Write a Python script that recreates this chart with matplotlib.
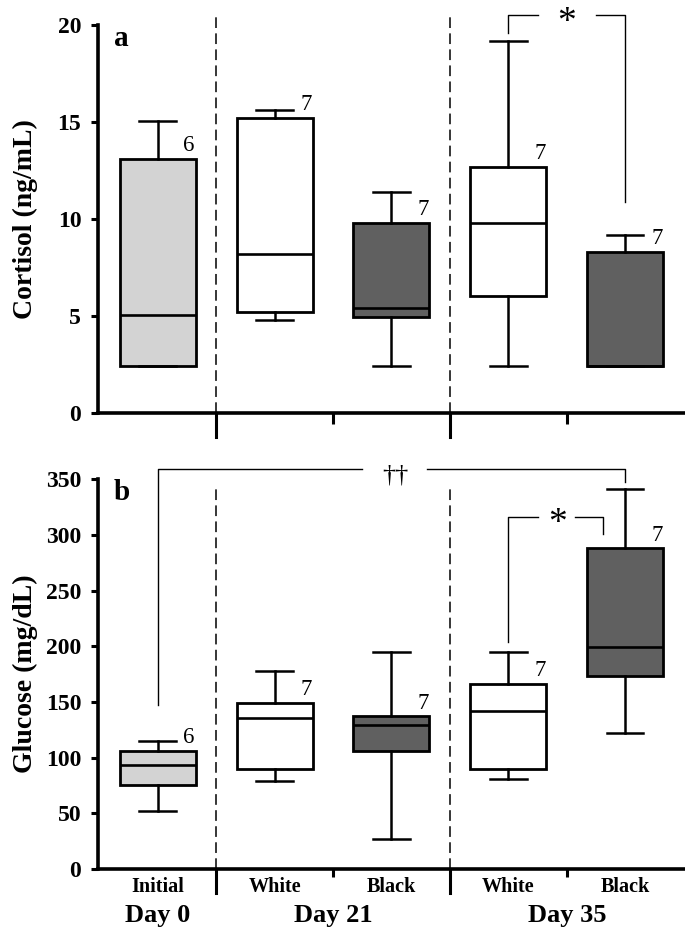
import matplotlib
matplotlib.use('Agg')
import matplotlib.pyplot as plt

plt.rcParams['font.family'] = ['Liberation Serif', 'DejaVu Serif']
plt.rcParams['font.weight'] = 'bold'

# ---------------- data ----------------
groups = ['Initial', 'White', 'Black', 'White', 'Black']
days = ['Day 0', 'Day 21', 'Day 35']
day_pos = [0, 1.5, 3.5]
n_labels = ['6', '7', '7', '7', '7']
colors = ['#d3d3d3', '#ffffff', '#606060', '#ffffff', '#606060']

cort_low = [2.45, 4.8, 2.45, 2.45, 2.45]
cort_q1 = [2.45, 5.2, 4.95, 6.05, 2.45]
cort_med = [5.05, 8.2, 5.4, 9.8, 2.45]
cort_q3 = [13.1, 15.2, 9.8, 12.7, 8.3]
cort_high = [15.05, 15.6, 11.4, 19.2, 9.2]

glu_low = [52, 79, 27, 81, 122]
glu_q1 = [75, 90, 106, 90, 173]
glu_med = [93, 136, 129, 142, 199]
glu_q3 = [106, 149, 137, 166, 288]
glu_high = [115, 178, 195, 195, 341]

fig = plt.figure(figsize=(6.85, 9.33), dpi=100)
ax1 = fig.add_axes([0.143, 0.5573, 0.857, 0.4159])
ax2 = fig.add_axes([0.143, 0.0686, 0.857, 0.4177])


def panel(ax, low, q1, med, q3, high, ylim, yticks, ylabel, letter, letter_y, dash_top,
          show_labels, minor_len):
    stats = []
    for i in range(len(groups)):
        stats.append(dict(med=med[i], q1=q1[i], q3=q3[i], whislo=low[i], whishi=high[i], fliers=[]))
    res = ax.bxp(stats, positions=list(range(len(groups))), widths=0.65, capwidths=0.31,
                 patch_artist=True, showfliers=False,
                 boxprops=dict(linewidth=2.0, edgecolor='black'),
                 whiskerprops=dict(linewidth=1.8, color='black'),
                 capprops=dict(linewidth=1.8, color='black'),
                 medianprops=dict(linewidth=1.9, color='black'))
    for b, c in zip(res['boxes'], colors):
        b.set_facecolor(c)
    for i, n in enumerate(n_labels):
        ax.annotate(n, (i + 0.27, q3[i]), xytext=(0, 2), textcoords='offset points',
                    ha='center', va='bottom', fontsize=16.5, fontweight='normal')
    ax.set_xlim(-0.51, 4.51)
    ax.set_ylim(*ylim)
    ax.set_yticks(yticks)
    ax.tick_params(axis='y', labelsize=17, width=2.2, length=5, direction='out', pad=7)
    ax.set_ylabel(ylabel, fontsize=20, fontweight='bold')
    ax.yaxis.set_label_coords(-0.102, 0.5)
    for s in ['top', 'right']:
        ax.spines[s].set_visible(False)
    for s in ['left', 'bottom']:
        ax.spines[s].set_linewidth(2.6)
    ax.set_xticks(list(range(len(groups))))
    if show_labels:
        ax.set_xticklabels(groups, fontsize=14.5, fontweight='bold')
    else:
        ax.set_xticklabels([])
    ax.tick_params(axis='x', which='major', length=0, pad=6)
    ax.set_xticks([1.5, 3.5], minor=True)
    ax.tick_params(axis='x', which='minor', length=minor_len, width=2.2, direction='out')
    xt = ax.get_xaxis_transform()
    for xb in [0.5, 2.5]:
        ax.plot([xb, xb], [0, dash_top], color='black', lw=1.1, ls=(0, (7, 3.5)), clip_on=False)
        ax.plot([xb, xb], [0, -0.062], transform=xt, color='black', lw=2.2, clip_on=False)
    ax.text(-0.31, letter_y, letter, fontsize=21, fontweight='bold', ha='center', va='baseline')


panel(ax1, cort_low, cort_q1, cort_med, cort_q3, cort_high, (0, 20), [0, 5, 10, 15, 20],
      'Cortisol (ng/mL)', 'a', 18.9, 20.56, False, 8)
panel(ax2, glu_low, glu_q1, glu_med, glu_q3, glu_high, (0, 350), [0, 50, 100, 150, 200, 250, 300, 350],
      'Glucose (mg/dL)', 'b', 331, 345, True, 5.5)

# significance brackets
kw = dict(color='black', lw=1.0, clip_on=False)
ax1.plot([3, 3, 3.25], [19.6, 20.5, 20.5], **kw)
ax1.plot([3.75, 4, 4], [20.5, 20.5, 10.9], **kw)
ax1.text(3.5, 20.1, '*', fontsize=27, ha='center', va='center', fontweight='normal')

ax2.plot([0, 0, 1.75], [147, 359, 359], **kw)
ax2.plot([2.30, 4, 4], [359, 359, 348], **kw)
ax2.text(2.03, 353, '††', fontsize=19, ha='center', va='center', fontweight='normal')
ax2.plot([3, 3, 3.25], [204, 316, 316], **kw)
ax2.plot([3.57, 3.81, 3.81], [316, 316, 301], **kw)
ax2.text(3.42, 310, '*', fontsize=27, ha='center', va='center', fontweight='normal')

xt2 = ax2.get_xaxis_transform()
for p, d in zip(day_pos, days):
    ax2.text(p, -0.12, d, transform=xt2, fontsize=19, fontweight='bold', ha='center', va='center')

fig.savefig('out.png', dpi=100)
